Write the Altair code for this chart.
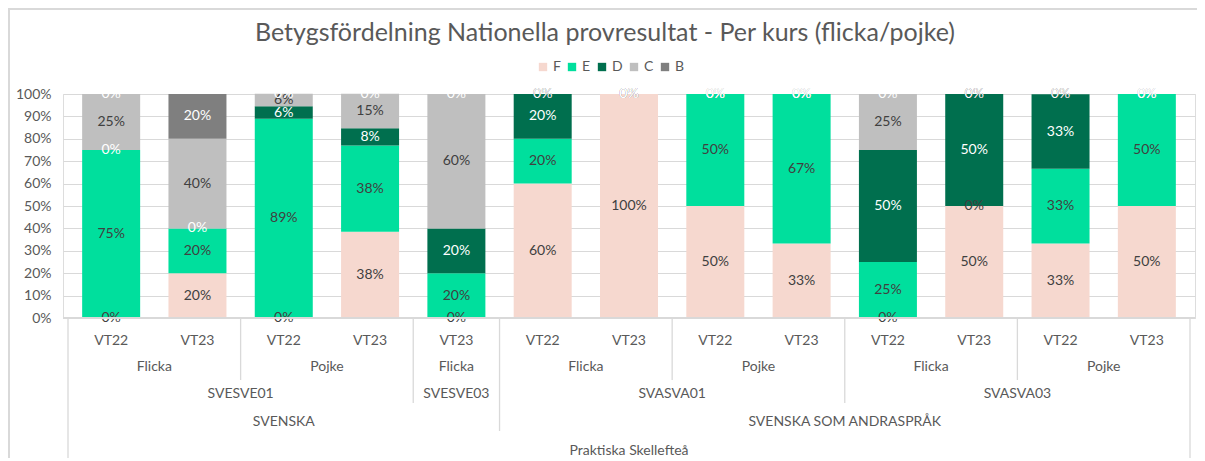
import altair as alt
import pandas as pd

# ---- data ----
title_text = ["Betygsfördelning Nationella provresultat - Per kurs (flicka/pojke)"]
school = "Praktiska Skellefteå"
subjects = ["SVENSKA"] * 5 + ["SVENSKA SOM ANDRASPRÅK"] * 8
courses = ["SVESVE01"] * 4 + ["SVESVE03"] + ["SVASVA01"] * 4 + ["SVASVA03"] * 4
genders = ["Flicka", "Flicka", "Pojke", "Pojke", "Flicka",
           "Flicka", "Flicka", "Pojke", "Pojke",
           "Flicka", "Flicka", "Pojke", "Pojke"]
terms = ["VT22", "VT23", "VT22", "VT23", "VT23",
         "VT22", "VT23", "VT22", "VT23",
         "VT22", "VT23", "VT22", "VT23"]

grades = ["F", "E", "D", "C", "B"]
F = [0.0, 0.20, 0.0, 0.385, 0.0, 0.60, 1.00, 0.50, 0.333, 0.0, 0.50, 0.333, 0.50]
E = [0.75, 0.20, 0.889, 0.385, 0.20, 0.20, 0.0, 0.50, 0.667, 0.25, 0.0, 0.333, 0.50]
D = [0.0, 0.0, 0.056, 0.077, 0.20, 0.20, 0.0, 0.0, 0.0, 0.50, 0.50, 0.333, 0.0]
C = [0.25, 0.40, 0.056, 0.154, 0.60, 0.0, 0.0, 0.0, 0.0, 0.25, 0.0, 0.0, 0.0]
B = [0.0, 0.20, 0.0, 0.0, 0.0, 0.0, 0.0, 0.0, 0.0, 0.0, 0.0, 0.0, 0.0]
y_ticks = [0.0, 0.1, 0.2, 0.3, 0.4, 0.5, 0.6, 0.7, 0.8, 0.9, 1.0]

grade_colors = ["#F6D8CF", "#00DF9D", "#006F4E", "#BFBFBF", "#7F7F7F"]
white_label_grades = ["D", "B"]

FONT = "Lato"
TXT = "#595959"
GRID = "#D9D9D9"

# ---- tables ----
n = len(terms)
series = {"F": F, "E": E, "D": D, "C": C, "B": B}
rows = []
for i in range(n):
    cum = 0.0
    for g in grades:
        v = series[g][i]
        rows.append({"idx": i, "grade": g, "value": v,
                     "y0": cum, "y1": cum + v, "mid": cum + v / 2,
                     "label": f"{round(v * 100)}%"})
        cum += v
seg = pd.DataFrame(rows)

cats = pd.DataFrame({"idx": range(n), "term": terms, "gender": genders,
                     "course": courses, "subject": subjects})
cats["school"] = school


def group_centers(keys, name):
    runs = (cats[keys] != cats[keys].shift()).any(axis=1).cumsum()
    g = cats.groupby(runs).agg(pos=("idx", "mean"), text=(name, "first"))
    return g.reset_index(drop=True)


lvl_gender = group_centers(["subject", "course", "gender"], "gender")
lvl_course = group_centers(["subject", "course"], "course")
lvl_subject = group_centers(["subject"], "subject")
lvl_school = group_centers(["school"], "school")

# separators between categories
sep_rows = []
for k in range(n + 1):
    if k == 0 or k == n:
        lvl = "outer"
    elif subjects[k] != subjects[k - 1]:
        lvl = "subject"
    elif courses[k] != courses[k - 1]:
        lvl = "course"
    elif genders[k] != genders[k - 1]:
        lvl = "gender"
    else:
        continue
    sep_rows.append({"bx": k - 0.5, "level": lvl})
seps = pd.DataFrame(sep_rows)

W, H = 1132, 224
xscale = alt.Scale(domain=[-0.5, n - 0.5], nice=False, zero=False)
yscale = alt.Scale(domain=[0, 1], nice=False)
yaxis = alt.Axis(values=y_ticks, format=".0%", labelOverlap=False,
                 grid=True, gridColor=GRID, domain=False,
                 ticks=False, labelColor=TXT, labelFontSize=14,
                 labelFont=FONT, labelPadding=12, title=None)
xenc = lambda f: alt.X(f, scale=xscale, axis=None)
yenc = lambda f: alt.Y(f, scale=yscale, axis=yaxis)

bars = alt.Chart(seg).mark_bar(width=58).encode(
    x=xenc("idx:Q"),
    y=yenc("y0:Q"),
    y2="y1:Q",
    color=alt.Color("grade:N", scale=alt.Scale(domain=grades, range=grade_colors),
                    sort=grades,
                    legend=alt.Legend(title=None, orient="none", direction="horizontal",
                                      legendX=473, legendY=-34, symbolType="square",
                                      symbolSize=70, symbolStrokeWidth=0,
                                      labelFont=FONT, labelFontSize=14, labelColor=TXT,
                                      labelOffset=3, columnPadding=4, padding=0)),
)

dark_labels = alt.Chart(seg).transform_filter(
    alt.FieldOneOfPredicate(field="grade", oneOf=[g for g in grades if g not in white_label_grades])
).mark_text(font=FONT, fontSize=14, color="#404040", baseline="middle").encode(
    x=xenc("idx:Q"), y=yenc("mid:Q"), text="label:N")

white_labels = alt.Chart(seg).transform_filter(
    alt.FieldOneOfPredicate(field="grade", oneOf=white_label_grades)
).mark_text(font=FONT, fontSize=14, color="white", baseline="middle").encode(
    x=xenc("idx:Q"), y=yenc("mid:Q"), text="label:N")


def axis_row(df, ypix, field):
    return alt.Chart(df).mark_text(font=FONT, fontSize=14, color=TXT, baseline="middle").encode(
        x=xenc(f"{field}:Q"), y=alt.value(ypix), text="text:N")


term_row = alt.Chart(cats).mark_text(font=FONT, fontSize=14, color=TXT, baseline="middle").encode(
    x=xenc("idx:Q"), y=alt.value(247), text="term:N")
gender_row = axis_row(lvl_gender, 273, "pos")
course_row = axis_row(lvl_course, 300, "pos")
subject_row = axis_row(lvl_subject, 328, "pos")
school_row = axis_row(lvl_school, 357, "pos")

sep_len = {"gender": 286, "course": 309, "subject": 337, "outer": 366}
sep_layers = []
for lvl, yend in sep_len.items():
    sep_layers.append(
        alt.Chart(seps).transform_filter(alt.datum.level == lvl)
        .mark_rule(color=GRID, strokeWidth=1.3)
        .encode(x=xenc("bx:Q"), y=alt.value(H), y2=alt.value(yend))
    )

baseline = alt.Chart(seps).mark_rule(color=GRID, strokeWidth=1.3).encode(
    x=alt.value(0), x2=alt.value(W), y=alt.value(H))

border_left = alt.Chart(seps).mark_rule(color=GRID, strokeWidth=1.5).encode(
    x=alt.value(-54), y=alt.value(-86), y2=alt.value(366))
border_top = alt.Chart(seps).mark_rule(color=GRID, strokeWidth=1.5).encode(
    x=alt.value(-55), x2=alt.value(W + 20), y=alt.value(-85))

title = alt.Chart(pd.DataFrame({"t": title_text})).mark_text(
    font=FONT, fontSize=25, color=TXT, baseline="middle", align="center"
).encode(x=alt.value(W / 2 - 24), y=alt.value(-61), text="t:N")

chart = alt.layer(
    bars, dark_labels, white_labels,
    term_row, gender_row, course_row, subject_row, school_row,
    *sep_layers, baseline, border_left, border_top, title,
).properties(
    width=W, height=H,
    autosize=alt.AutoSizeParams(type="none"),
    padding={"left": 55, "top": 86, "right": 2, "bottom": 140},
).configure_view(stroke=None).configure(background="white")

chart.save("out.html", embed_options={"renderer": "svg", "actions": False})
